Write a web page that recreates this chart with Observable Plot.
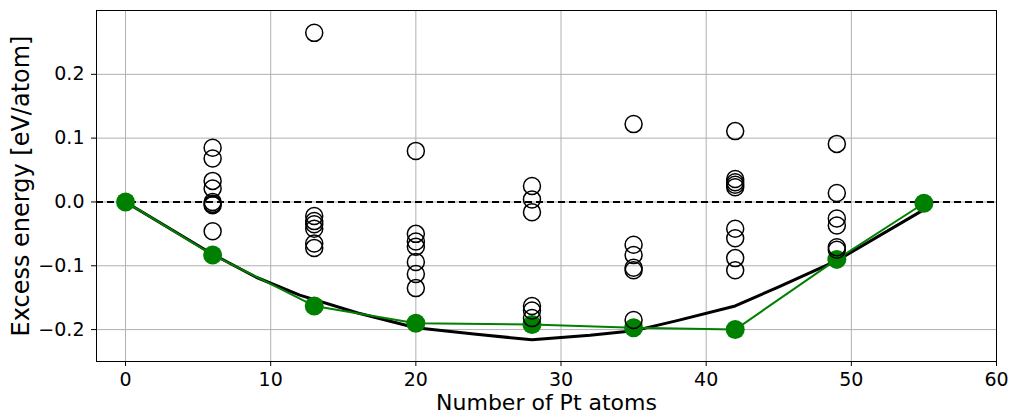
<!DOCTYPE html>
<html>
<head>
<meta charset="utf-8">
<script src="https://cdn.jsdelivr.net/npm/d3@7"></script>
<script src="https://cdn.jsdelivr.net/npm/@observablehq/plot@0.6"></script>
<style>
  html, body { margin: 0; padding: 0; background: #fff; }
</style>
</head>
<body>
<div id="chart"></div>
<script>
// Candidate structures: number of Pt atoms and excess energy (eV/atom)
const candidateN = [
  6, 6, 6, 6, 6, 6, 6, 6,
  13, 13, 13, 13, 13, 13, 13,
  20, 20, 20, 20, 20, 20, 20,
  28, 28, 28, 28, 28, 28,
  35, 35, 35, 35, 35, 35,
  42, 42, 42, 42, 42, 42, 42, 42, 42,
  49, 49, 49, 49, 49, 49
];
const candidateE = [
  0.085, 0.068, 0.033, 0.021, 0.000, -0.003, -0.005, -0.046,
  0.265, -0.022, -0.030, -0.035, -0.042, -0.065, -0.072,
  0.080, -0.050, -0.062, -0.070, -0.094, -0.113, -0.135,
  0.025, 0.004, -0.016, -0.163, -0.170, -0.182,
  0.122, -0.067, -0.083, -0.103, -0.107, -0.185,
  0.111, 0.036, 0.031, 0.027, 0.023, -0.042, -0.057, -0.088, -0.107,
  0.091, 0.014, -0.026, -0.037, -0.071, -0.075
];

// Lowest-energy structures (green)
const hullN = [0, 6, 13, 20, 28, 35, 42, 49, 55];
const hullE = [0.0, -0.083, -0.163, -0.190, -0.192, -0.197, -0.200, -0.090, -0.002];

// Reference curve (black)
const refN = [0, 6, 9, 12, 16, 20, 24, 28, 32, 35, 38, 42, 45, 49, 55];
const refE = [0.0, -0.082, -0.118, -0.146, -0.174, -0.197, -0.207, -0.216, -0.209, -0.202, -0.186, -0.163, -0.133, -0.092, -0.012];

const xTicks = [0, 10, 20, 30, 40, 50, 60];
const yTicks = [-0.2, -0.1, 0.0, 0.1, 0.2];
const xLabel = "Number of Pt atoms";
const yLabel = "Excess energy [eV/atom]";

const candidates = candidateN.map((n, i) => ({n, e: candidateE[i]}));
const hull = hullN.map((n, i) => ({n, e: hullE[i]}));
const ref = refN.map((n, i) => ({n, e: refE[i]}));

const chart = Plot.plot({
  width: 1011,
  height: 417,
  marginLeft: 96,
  marginRight: 15,
  marginTop: 10,
  marginBottom: 56,
  style: {fontFamily: "DejaVu Sans", fontSize: "19px", color: "#000", background: "#fff"},
  x: {domain: [-2, 60]},
  y: {domain: [-0.25, 0.3]},
  marks: [
    Plot.gridX(xTicks, {stroke: "#b0b0b0", strokeOpacity: 1, strokeWidth: 1}),
    Plot.gridY(yTicks, {stroke: "#b0b0b0", strokeOpacity: 1, strokeWidth: 1}),
    Plot.ruleY([0], {stroke: "#000", strokeWidth: 2, strokeDasharray: "7,4"}),
    Plot.line(ref, {x: "n", y: "e", stroke: "#000", strokeWidth: 3}),
    Plot.line(hull, {x: "n", y: "e", stroke: "#008000", strokeWidth: 2}),
    Plot.dot(hull, {x: "n", y: "e", r: 9.5, fill: "#008000", stroke: "none"}),
    Plot.dot(candidates, {x: "n", y: "e", r: 8.5, fill: "none", stroke: "#000", strokeWidth: 1.5}),
    Plot.frame({stroke: "#000", strokeWidth: 1}),
    Plot.axisX(xTicks, {tickSize: 5, tickPadding: 6, fontSize: 19, label: null, stroke: "#000"}),
    Plot.axisY(yTicks, {tickSize: 5, tickPadding: 7, fontSize: 19, label: null, tickFormat: d3.format(".1f"), stroke: "#000"}),
    Plot.text([xLabel], {frameAnchor: "bottom", dy: 48, fontSize: 22, text: d => d}),
    Plot.text([yLabel], {frameAnchor: "left", dx: -75, rotate: -90, textAnchor: "middle", fontSize: 24, text: d => d})
  ]
});
document.getElementById("chart").appendChild(chart);
</script>
</body>
</html>
